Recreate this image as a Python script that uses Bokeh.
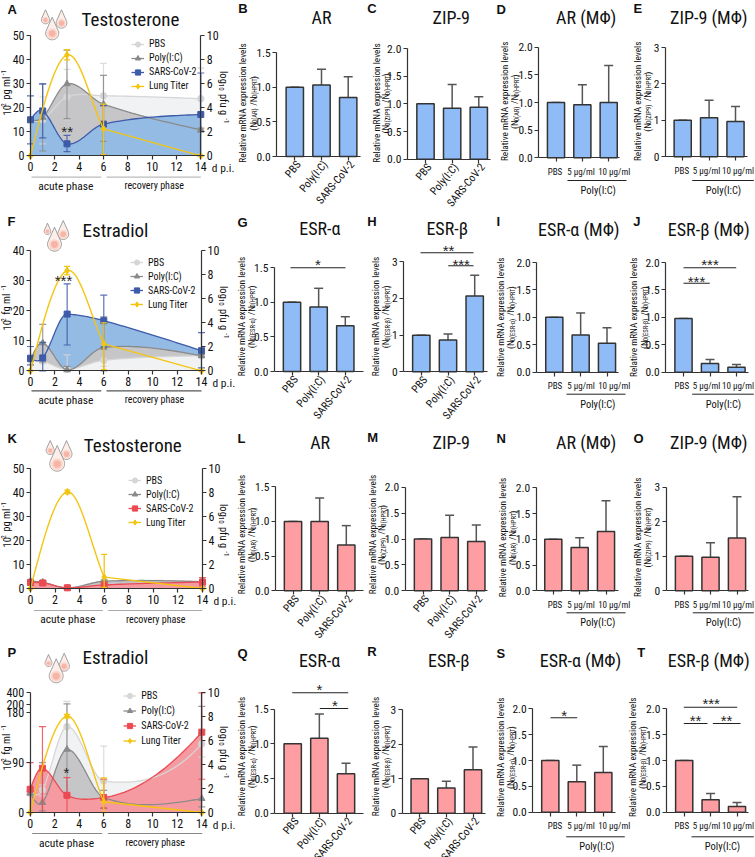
import math
import numpy as np
from bokeh.plotting import figure
from bokeh.layouts import column, row
from bokeh.embed import file_html
from bokeh.resources import INLINE
from bokeh.models import (Range1d, LinearAxis, FixedTicker, Label, Legend, LegendItem)

# ---------- data ----------
DAYS = [0, 1, 3, 6, 14]
LUNG_DAYS = [0, 3, 6, 14]

A_PBS = [15, 15, 24.5, 25, 23.8]; A_PBS_UP = [15.5, 24.5, 36, 38.5, 36.5]; A_PBS_LO = [14.5, 5, 15, 6, 11]
A_POLY = [15, 16, 30, 21.5, 10.8]; A_POLY_UP = [15.5, 30, 44, 33.5, 11.5]; A_POLY_LO = [14.5, 2, 15.5, 6, 10]
A_SARS = [15, 18.7, 5, 13.2, 17.2]; A_SARS_UP = [25, 30, 8.5, 21, 34.5]; A_SARS_LO = [5, 7.5, 1.7, 0.5, 0]
A_LUNG = [0, 8.4, 2.25, 0]; A_LUNG_UP = [0, 8.85, 4.3, 0]; A_LUNG_LO = [0, 8, 0.1, 0]

F_PBS = [3.7, 3.2, 0.5, 3.5, 5]; F_PBS_UP = [4, 4, 5.3, 8, 5.5]; F_PBS_LO = [3.4, 2.5, 0, 1.5, 4.5]
F_POLY = [3.7, 9.3, 0.3, 7.8, 5]; F_POLY_UP = [4, 15.5, 1.5, 18, 5.5]; F_POLY_LO = [3.4, 3, 0, 0, 4.5]
F_SARS = [4.2, 4.3, 18.9, 16.7, 6.7]; F_SARS_UP = [8.1, 9.5, 29, 25.2, 12.7]; F_SARS_LO = [2, 0, 8.6, 8, 1]
F_LUNG = [0, 8.35, 2.25, 0]; F_LUNG_UP = [0, 8.7, 4, 0]; F_LUNG_LO = [0, 8, 0.1, 0]

K_PBS = [3, 2.5, 0.3, 3, 3]; K_PBS_UP = [3.5, 3, 0.5, 3.6, 3.6]; K_PBS_LO = [2.5, 2, 0.1, 2.4, 2.4]
K_POLY = [3, 2.6, 0.2, 3, 2.8]; K_POLY_UP = [3.5, 3.2, 0.4, 3.5, 3.3]; K_POLY_LO = [2.5, 2, 0, 2.5, 2.3]
K_SARS = [2.5, 2.3, 0.3, 1.5, 2.7]; K_SARS_UP = [3.5, 3.2, 0.6, 2.5, 4.5]; K_SARS_LO = [1.5, 1.4, 0, 0.5, 1]
K_LUNG = [0, 8.05, 0.95, 0]; K_LUNG_UP = [0, 8.2, 2.85, 0]; K_LUNG_LO = [0, 7.9, 0.1, 0]

P_PBS = [35, 41, 155, 57, 124]; P_PBS_UP = [38, 50, 250, 120, 150]; P_PBS_LO = [32, 30, 60, 20, 100]
P_POLY = [35, 18, 114, 27, 25]; P_POLY_UP = [38, 90, 205, 40, 195]; P_POLY_LO = [32, 3, 30, 8, 10]
P_SARS = [42, 80, 31, 27, 145]; P_SARS_UP = [90, 155, 63, 60, 400]; P_SARS_LO = [0, 0, 0, 8, 60]
P_LUNG = [0, 8.05, 0.9, 0]; P_LUNG_UP = [0, 8.2, 2.9, 0]; P_LUNG_LO = [0, 7.9, 0, 0]

VIVO = ["PBS", "Poly(I:C)", "SARS-CoV-2"]
VITRO = ["PBS", "5 µg/ml", "10 µg/ml"]

B_MEAN = [1, 1.03, 0.85]; B_UP = [1, 1.26, 1.15]
C_MEAN = [1, 0.92, 0.94]; C_UP = [1, 1.35, 1.13]
D_MEAN = [1, 0.96, 1.0]; D_UP = [1, 1.32, 1.67]
E_MEAN = [1, 1.07, 0.97]; E_UP = [1, 1.55, 1.38]
G_MEAN = [1, 0.93, 0.66]; G_UP = [1, 1.2, 0.79]
H_MEAN = [1, 0.87, 2.07]; H_UP = [1, 1.03, 2.63]
I_MEAN = [1, 0.68, 0.53]; I_UP = [1, 1.08, 0.81]
J_MEAN = [0.98, 0.16, 0.09]; J_UP = [0.98, 0.23, 0.14]
L_MEAN = [1, 1.0, 0.66]; L_UP = [1, 1.34, 0.94]
M_MEAN = [1, 1.03, 0.95]; M_UP = [1, 1.46, 1.27]
N_MEAN = [1, 0.84, 1.15]; N_UP = [1, 1.03, 1.75]
O_MEAN = [1, 0.97, 1.53]; O_UP = [1, 1.39, 2.72]
Q_MEAN = [1, 1.08, 0.57]; Q_UP = [1, 1.43, 0.72]
R_MEAN = [1, 0.73, 1.26]; R_UP = [1, 0.93, 1.92]
S_MEAN = [1, 0.59, 0.77]; S_UP = [1, 0.91, 1.27]
T_MEAN = [1, 0.24, 0.11]; T_UP = [1, 0.36, 0.19]

# ---------- layout ----------
COLS = [0, 236, 366, 495, 626, 755]
ROWS = [0, 212, 430, 646, 857]
OVERLAP = 6
NARROW = "'Roboto Condensed','Noto Sans Condensed','Open Sans Condensed','DejaVu Sans Condensed',Lato"
BOLD = "Liberation Sans"
AX = "#333333"
BLUE_BAR, RED_BAR = "#8fbcf7", "#ff9ea2"
BLUE_F, RED_F, GRAY_F, LIGHT_F = "#93bbe4", "#f59aa0", "#c6c6c9", "#f1f2f4"
BLUE_L, RED_L = "#3e5ba9", "#ec4a52"
GRAY_L, PBS_L, LUNG_L = "#8a8a8a", "#d6d6d6", "#f3c512"
VITRO_CENTERS = {3: [554.5, 580.5, 613.7], 4: [681.3, 706, 737.5]}
TITLE_SIZE = 18


class Panel:
    def __init__(self, c, r, a0, apx, unit, y0, ytop_px, ytop):
        self.left, self.top = COLS[c], ROWS[r]
        self.right, self.bottom = COLS[c + 1], ROWS[r + 1]
        self.a0, self.apx, self.y0, self.ys = a0, apx, y0, ytop / (y0 - ytop_px)
        self.c = c
        extra = OVERLAP if c == 3 else 0
        self.X = lambda px: a0 + (px - apx) / unit
        self.Y = lambda py: (y0 - py) * self.ys
        W = self.right - self.left + extra
        H = self.bottom - self.top
        self.p = figure(width=W, height=H, output_backend="svg", toolbar_location=None,
                        x_range=Range1d(self.X(self.left), self.X(self.left + W)),
                        y_range=Range1d(self.Y(self.bottom), self.Y(self.top)),
                        x_axis_type=None, y_axis_type=None, min_border=0,
                        min_border_left=0, min_border_right=0, min_border_top=0, min_border_bottom=0,
                        background_fill_color=None, border_fill_color=None, outline_line_color=None,
                        margin=(0, -extra, 0, 0))

    def text(self, x, y, s, size=10, font=NARROW, align="center", base="middle", angle=0, style="normal", color="#111111"):
        self.p.add_layout(Label(x=self.X(x), y=self.Y(y), text=s, text_font=font, text_font_size=f"{size}px",
                                text_align=align, text_baseline=base, angle=angle, angle_units="deg",
                                text_font_style=style, text_color=color))

    def seg(self, x0, x1, y, color="#222222", width=1.2):
        self.p.segment([self.X(x0)], [self.Y(y)], [self.X(x1)], [self.Y(y)], line_color=color, line_width=width)

    def stars(self, cx, y, s):
        self.text(cx, y + 3, s, size=15, font=BOLD, color="#222222")

    def rich_v(self, x, cy, pieces, up=True):
        """rotated text built of (text, size, shift) pieces"""
        widths = [len(t) * sz * 0.41 for t, sz, _ in pieces]
        total = sum(widths)
        pos = cy + total / 2 if up else cy - total / 2
        for (t, sz, sh), w in zip(pieces, widths):
            lead = (len(t) - len(t.lstrip())) * sz * 0.41
            start = pos - lead if up else pos + lead
            self.text(x + (sh if up else -sh), start, t.strip(), size=sz, align="left", angle=90 if up else -90)
            pos += -w if up else w


def style_axis(ax, size=12):
    ax.axis_line_color = AX
    ax.axis_line_width = 1.2
    ax.major_tick_line_color = AX
    ax.major_tick_line_width = 1.2
    ax.major_tick_in = 0
    ax.major_tick_out = 4
    ax.minor_tick_line_color = None
    ax.major_label_text_font = NARROW
    ax.major_label_text_font_size = f"{size}px"
    ax.major_label_text_color = "#111111"
    ax.major_label_standoff = 2


def smooth(xs, ys, over=None):
    xs, ys = np.array(xs, float), np.array(ys, float)
    d = np.diff(ys) / np.diff(xs)
    m = np.zeros(len(xs))
    m[1:-1] = (ys[2:] - ys[:-2]) / (xs[2:] - xs[:-2])
    m[0] = 1.5 * d[0] - 0.5 * m[1]
    m[-1] = 1.5 * d[-1] - 0.5 * m[-2]
    for k, v in (over or {}).items():
        m[k] = v
    ox, oy = [], []
    for i in range(len(xs) - 1):
        h = xs[i + 1] - xs[i]
        t = np.linspace(0, 1, 24, endpoint=False)
        ox += list(xs[i] + t * h)
        oy += list((2*t**3 - 3*t**2 + 1) * ys[i] + (t**3 - 2*t**2 + t) * h * m[i]
                   + (-2*t**3 + 3*t**2) * ys[i + 1] + (t**3 - t**2) * h * m[i + 1])
    return ox + [xs[-1]], oy + [ys[-1]]


def lung_curve(vals):
    d = (vals[2] - vals[1]) / (LUNG_DAYS[2] - LUNG_DAYS[1])
    x, y = smooth(LUNG_DAYS[:3], vals[:3], {2: d})
    return x + [LUNG_DAYS[3]], y + [vals[3]]


def drop(pn, cx, y_top, y_bot):
    r = (y_bot - y_top) * 0.29
    cy = y_bot - r
    th = np.linspace(-0.15 * math.pi, 1.15 * math.pi, 30)
    xs = [cx + r * math.cos(t) for t in th]
    ys = [cy + r * math.sin(t) for t in th]
    xo = [cx] + xs
    yo = [y_top] + ys
    pn.p.patch([pn.X(v) for v in xo], [pn.Y(v) for v in yo], fill_color="#fdeee9", line_color="#8a8a8a", line_width=0.8)
    for f, col in ((0.78, "#fbd6cc"), (0.5, "#f6b5a6")):
        pn.p.scatter([pn.X(cx)], [pn.Y(cy + r * 0.05)], size=2 * r * f, marker="circle", fill_color=col, line_color=None)


def line_panel(c, r, x0, x14, y0, ytop_px, ytop, series, fill_order, titles, drops, legend, fmt=None, over=None, brk=None):
    pn = Panel(c, r, 0, x0, (x14 - x0) / 14, y0, ytop_px, ytop)
    p = pn.p
    over = over or {}
    tf = brk or (lambda v: v)
    log_scale = 10 / (y0 - ytop_px) if fmt is None else 10 / (y0 - fmt["ten_px"])
    p.extra_y_ranges = {"log": Range1d((y0 - pn.bottom) * log_scale, (y0 - pn.top) * log_scale)}

    # fills
    names = {"PBS": LIGHT_F, "POLY": GRAY_F, "SARS": series["sarsfill"]}
    for k in fill_order:
        x, y = smooth(DAYS, [tf(v) for v in series[k][0]], over.get(k))
        p.patch([x[0]] + x + [x[-1]], [0] + y + [0], fill_color=names[k], line_color=None)
    rend = {}
    cols = {"PBS": (PBS_L, "circle", 6.5), "POLY": (GRAY_L, "triangle", 6.5), "SARS": (series["sarsline"], "square", 6)}
    for k in ["PBS", "POLY", "SARS"]:
        m, u, l = series[k]
        col, mk, sz = cols[k]
        x, y = smooth(DAYS, [tf(v) for v in m], over.get(k))
        ln = p.line(x, y, line_color=col, line_width=1.3)
        ua, la = [tf(v) for v in u], [tf(v) for v in l]
        p.segment(DAYS, ua, DAYS, la, line_color=col, line_width=1.2, line_alpha=0.85)
        p.scatter(DAYS, ua, marker="dash", size=7, line_color=col, line_width=1.2, line_alpha=0.85)
        p.scatter(DAYS, la, marker="dash", size=7, line_color=col, line_width=1.2, line_alpha=0.85)
        sc = p.scatter(DAYS, [tf(v) for v in m], marker=mk, size=sz, fill_color=col, line_color=col)
        rend[k] = [ln, sc]
    m, u, l = series["LUNG"]
    x, y = lung_curve(m)
    ln = p.line(x, y, line_color=LUNG_L, line_width=1.4, y_range_name="log")
    p.segment(LUNG_DAYS, u, LUNG_DAYS, l, line_color=LUNG_L, line_width=1.3, y_range_name="log")
    p.scatter(LUNG_DAYS, u, marker="dash", size=6, line_color=LUNG_L, line_width=1.3, y_range_name="log")
    p.scatter(LUNG_DAYS, l, marker="dash", size=6, line_color=LUNG_L, line_width=1.3, y_range_name="log")
    sc = p.scatter(LUNG_DAYS, m, marker="diamond", size=7, fill_color=LUNG_L, line_color=LUNG_L, y_range_name="log")
    rend["LUNG"] = [ln, sc]

    # axes
    xa = LinearAxis(ticker=FixedTicker(ticks=list(range(0, 15, 2))), bounds=(0, 14), fixed_location=0)
    style_axis(xa)
    p.add_layout(xa, "below")
    ticks = fmt["ticks"] if fmt else list(range(0, int(ytop) + 1, 10))
    ya = LinearAxis(ticker=FixedTicker(ticks=ticks), bounds=(0, ticks[-1]), fixed_location=0)
    style_axis(ya)
    if fmt:
        ya.major_label_overrides = fmt["labels"]
    p.add_layout(ya, "left")
    ra = LinearAxis(y_range_name="log", ticker=FixedTicker(ticks=[0, 2, 4, 6, 8, 10]), bounds=(0, 10), fixed_location=14)
    style_axis(ra)
    p.add_layout(ra, "right")

    # legend
    lx, ly0, lstep = legend
    items = [LegendItem(label=n, renderers=rend[k]) for n, k in
             (("PBS", "PBS"), ("Poly(I:C)", "POLY"), ("SARS-CoV-2", "SARS"), ("Lung Titer", "LUNG"))]
    bottom_y = pn.bottom - (ly0 + 3 * lstep + lstep / 2)
    p.add_layout(Legend(items=items, location=(lx, bottom_y), background_fill_color=None, border_line_color=None,
                        padding=0, margin=0, spacing=0, glyph_width=13, glyph_height=int(lstep), label_height=int(lstep),
                        label_standoff=5, label_text_font=NARROW, label_text_font_size="10px", label_text_color="#111111"))

    # texts
    pn.text(*titles["title"], size=TITLE_SIZE + 1)
    pn.text(titles["letter"][0], titles["letter"][1], titles["letter"][2], size=13, font=BOLD, style="bold", align="left")
    pn.text(x14 + 11, y0 + 12, "d p.i.", size=11.5, align="left")
    px0, px1, px2, px3, ly, lc, tc1, tc2, ty, lcol = titles["phase"]
    pn.seg(px0, px1, ly, color=lcol, width=1.2)
    pn.seg(px2, px3, ly, color=lcol, width=1.2)
    pn.text(tc1, ty, "acute phase", size=11.5)
    pn.text(tc2, ty, "recovery phase", size=10)
    pn.rich_v(titles["ylab"][0], titles["ylab"][1], titles["ylab"][2])
    pn.rich_v(titles["rlab"][0], titles["rlab"][1],
              [("log", 10.5, 0), ("10", 7, 2.5), (" pfu g", 10.5, 0), (" -1", 7, -3)], up=False)
    for cx, yt, yb in drops:
        drop(pn, cx, yt, yb)
    if "star" in titles:
        pn.stars(*titles["star"])
    return p


def bar_panel(c, r, centers, end_x, axis_x, y0, ytop_px, ytop, ticks, mean, up, color, cats, title, letter, ylab, sub, sig=(), bracket=None):
    sp = (centers[2] - centers[0]) / 2
    pn = Panel(c, r, 0, centers[0], sp, y0, ytop_px, ytop)
    p = pn.p
    idx = [0, 1, 2]
    p.segment(idx, up, idx, mean, line_color="#555555", line_width=1.5)
    p.scatter(idx, up, marker="dash", size=9, line_color="#555555", line_width=1.5)
    p.vbar(x=idx, top=mean, bottom=0, width=0.65, fill_color=color, line_color="#333333", line_width=1.5)
    xa = LinearAxis(ticker=FixedTicker(ticks=idx), bounds=(pn.X(axis_x), pn.X(end_x)), fixed_location=0,
                    major_label_overrides={i: "" for i in idx})
    style_axis(xa, 10.5)
    p.add_layout(xa, "below")
    if cats is VIVO:
        for cx, s in zip(centers, cats):
            pn.text(cx + 4, y0 + 6, s, size=11, align="right", angle=50)
    else:
        for cx, s in zip(VITRO_CENTERS[c], cats):
            pn.text(cx, y0 + 14, s, size=9)
    ya = LinearAxis(ticker=FixedTicker(ticks=ticks), bounds=(0, ytop), fixed_location=pn.X(axis_x))
    style_axis(ya, 11.5)
    ya.major_label_overrides = {t: (f"{t:.1f}" if ytop < 3 else str(int(t))) for t in ticks}
    p.add_layout(ya, "left")
    pn.text(title[0], title[1], title[2], size=TITLE_SIZE)
    pn.text(letter[0], letter[1], letter[2], size=13, font=BOLD, style="bold", align="left")
    pn.text(ylab[0], ylab[2], "Relative mRNA expression levels", size=9.3, angle=90)
    pn.rich_v(ylab[1] - 1.5, ylab[2], [("(N", 9.3, 0), (sub, 6.6, 2), (" /N", 9.3, 0), ("0(HPRT)", 6.6, 2), (")", 9.3, 0)])
    for x0, x1, ly, s, cx, sy in sig:
        pn.seg(x0, x1, ly, width=1.1)
        pn.stars(cx, sy, s)
    if bracket:
        bx0, bx1, by, tx, ty = bracket
        pn.seg(bx0, bx1, by, color="#222222", width=1.0)
        pn.text(tx, ty, "Poly(I:C)", size=10.5)
    return p


BLUE_KW = dict(sarsfill=BLUE_F, sarsline=BLUE_L)
RED_KW = dict(sarsfill=RED_F, sarsline=RED_L)
T_V = [0, 0.5, 1.0, 1.5]
T_W = [0, 0.5, 1.0, 1.5, 2.0]
T_3 = [0, 1, 2, 3]


def ylab_l(unit):
    return [("10", 10.5, 0), ("2", 7, -3), (" " + unit + " ml", 10.5, 0), (" -1", 7, -3)]


# ---- row 1
pA = line_panel(0, 0, 30, 200.3, 155.3, 35.3, 50,
    dict(PBS=(A_PBS, A_PBS_UP, A_PBS_LO), POLY=(A_POLY, A_POLY_UP, A_POLY_LO), SARS=(A_SARS, A_SARS_UP, A_SARS_LO),
         LUNG=(A_LUNG, A_LUNG_UP, A_LUNG_LO), **BLUE_KW),
    ["PBS", "POLY", "SARS"],
    dict(title=(130, 19, "Testosterone"), letter=(7, 8.5, "A"), phase=(31, 100.7, 106, 200.3, 176.7, 0, 65.3, 153.7, 185, "#bbbbbb"),
         ylab=(6, 92, ylab_l("pg")), rlab=(223, 97), star=(66.7, 128, "**")),
    [(45, 9.3, 23.3), (61, 9.3, 27.7), (51.7, 16.7, 39.3)], (131, 42.3, 14.4))
pB = bar_panel(1, 0, [294.3, 321, 347.7], 360, 276.3, 156, 52, 1.5, T_V, B_MEAN, B_UP, BLUE_BAR, VIVO, (321, 17, "AR"), (237.7, 7.5, "B"), (242.3, 254.3, 102.5), "0(AR)")
pC = bar_panel(2, 0, [425, 451.7, 478.3], 490, 407, 158.7, 48, 2.0, T_W, C_MEAN, C_UP, BLUE_BAR, VIVO, (450.7, 17, "ZIP-9"), (366.7, 7.5, "C"), (375.7, 386.7, 102.5), "0(ZIP9)")
pD = bar_panel(3, 0, [555.5, 582, 608.2], 619, 538.3, 157.3, 46.7, 2.0, T_W, D_MEAN, D_UP, BLUE_BAR, VITRO, (585.7, 17, "AR (MΦ)"), (496, 8.5, "D"), (504.3, 515.7, 100.8), "0(AR)", bracket=(567, 626, 180, 597.7, 190))
pE = bar_panel(4, 0, [682.2, 708.8, 735], 746.7, 665, 156.3, 47, 3, T_3, E_MEAN, E_UP, BLUE_BAR, VITRO, (708.3, 17, "ZIP-9 (MΦ)"), (633, 8, "E"), (636.7, 648.3, 100.8), "0(ZIP9)", bracket=(691.7, 753.3, 180, 723, 190))

# ---- row 2
pF = line_panel(0, 1, 30, 201, 370.3, 250.3, 40,
    dict(PBS=(F_PBS, F_PBS_UP, F_PBS_LO), POLY=(F_POLY, F_POLY_UP, F_POLY_LO), SARS=(F_SARS, F_SARS_UP, F_SARS_LO),
         LUNG=(F_LUNG, F_LUNG_UP, F_LUNG_LO), **BLUE_KW),
    ["SARS", "POLY", "PBS"],
    dict(title=(115, 230, "Estradiol"), letter=(7, 221, "F"), phase=(31, 100.7, 106, 201, 390.3, 0, 65.3, 154, 399.3, "#555555"),
         ylab=(6, 307, ylab_l("fg")), rlab=(223, 312), star=(63, 277, "***")),
    [(47, 222.7, 234), (62.7, 220, 239), (54, 226.7, 250.7)], (130, 260.7, 14.5), over=dict(SARS={2: -0.2}))
pG = bar_panel(1, 1, [291.5, 318.2, 344.8], 362.7, 274, 371, 267, 1.5, T_V, G_MEAN, G_UP, BLUE_BAR, VIVO, (319.3, 228, "ESR-α"), (237, 221.5, "G"), (241, 252.3, 316), "0(ESR-α)",
               sig=[(290, 345, 267.3, "*", 317.5, 261)])
pH = bar_panel(2, 1, [420.8, 447.7, 474.2], 486.7, 403.3, 371.3, 261.3, 3, T_3, H_MEAN, H_UP, BLUE_BAR, VIVO, (446.7, 228, "ESR-β"), (366.7, 220.7, "H"), (375.3, 386.7, 316), "0(ESR-β)",
               sig=[(420, 473, 252.3, "**", 448, 247), (447.7, 473, 265.3, "***", 460.7, 261)])
pI = bar_panel(3, 1, [553.8, 580.2, 606.5], 617.7, 536.3, 371.7, 262, 2.0, T_W, I_MEAN, I_UP, BLUE_BAR, VITRO, (578.3, 229, "ESR-α (MΦ)"), (496, 221, "I"), (500, 511.7, 316.7), "0(ESR-α)", bracket=(566, 625, 393.7, 597.3, 404))
pJ = bar_panel(4, 1, [683, 709.5, 736], 747.7, 665.3, 371.7, 262, 2.0, T_W, J_MEAN, J_UP, BLUE_BAR, VITRO, (708.3, 229, "ESR-β (MΦ)"), (632.7, 221, "J"), (633.3, 645, 316.7), "0(ESR-β)",
               sig=[(683, 735.7, 267.3, "***", 709.5, 261), (683, 709.3, 282.7, "***", 696, 278)], bracket=(691.7, 753.3, 393.7, 723, 404))

# ---- row 3
pK = line_panel(0, 2, 30, 202, 588, 468, 50,
    dict(PBS=(K_PBS, K_PBS_UP, K_PBS_LO), POLY=(K_POLY, K_POLY_UP, K_POLY_LO), SARS=(K_SARS, K_SARS_UP, K_SARS_LO),
         LUNG=(K_LUNG, K_LUNG_UP, K_LUNG_LO), **RED_KW),
    ["PBS", "POLY", "SARS"],
    dict(title=(132.3, 445, "Testosterone"), letter=(7, 438, "K"), phase=(33.3, 102.3, 107.7, 201.7, 610, 0, 67.3, 155.3, 618.7, "#aaaaaa"),
         ylab=(6, 524, ylab_l("pg")), rlab=(223, 530)),
    [(49.7, 440, 454), (66, 440, 459), (56.7, 445, 470.7)], (128, 477.7, 14.7))
pL = bar_panel(1, 2, [292.5, 319.2, 345.8], 363.3, 275, 590.3, 486.3, 1.5, T_V, L_MEAN, L_UP, RED_BAR, VIVO, (319.7, 441.7, "AR"), (237, 438, "L"), (241, 252.7, 534), "0(AR)")
pM = bar_panel(2, 2, [422.5, 449.2, 475.8], 487.3, 404.7, 590.3, 486.7, 2.0, T_W, M_MEAN, M_UP, RED_BAR, VIVO, (450.7, 441.7, "ZIP-9"), (366.7, 437, "M"), (371.7, 382.7, 534), "0(ZIP9)")
pN = bar_panel(3, 2, [552.8, 579.2, 605.5], 617.7, 535.7, 590.3, 487.3, 2.0, T_W, N_MEAN, N_UP, RED_BAR, VITRO, (585.7, 441.7, "AR (MΦ)"), (496, 438, "N"), (501.7, 513.3, 537), "0(AR)", bracket=(566, 625, 612.3, 597.3, 622.3))
pO = bar_panel(4, 2, [683.5, 709.8, 736.5], 747.7, 665.7, 590.3, 486.7, 3, T_3, O_MEAN, O_UP, RED_BAR, VITRO, (708.3, 441.7, "ZIP-9 (MΦ)"), (633, 438, "O"), (636.7, 648.3, 536.7), "0(ZIP9)", bracket=(692.3, 753.3, 612.3, 723, 622.3))

# ---- row 4 (broken left axis)
P_UNIT = 180 / (812 - 712.3)


def brk(v):
    if v <= 180:
        return v
    if v <= 200:
        return 180 + (v - 180) / 20 * (8.6 * P_UNIT)
    return 180 + 8.6 * P_UNIT + (v - 200) / 200 * (11.4 * P_UNIT)


P_TICKS = [0, 90, 180, brk(200), brk(400)]
pP = line_panel(0, 3, 29.7, 201.3, 812, 712.3, 180,
    dict(PBS=(P_PBS, P_PBS_UP, P_PBS_LO), POLY=(P_POLY, P_POLY_UP, P_POLY_LO), SARS=(P_SARS, P_SARS_UP, P_SARS_LO),
         LUNG=(P_LUNG, P_LUNG_UP, P_LUNG_LO), **RED_KW),
    ["PBS", "POLY", "SARS"],
    dict(title=(115, 657.3, "Estradiol"), letter=(7, 652, "P"), phase=(31.7, 101.7, 107.3, 201.7, 833, 0, 66, 154.7, 842, "#888888"),
         ylab=(6, 747, ylab_l("fg")), rlab=(223, 752), star=(66, 768.7, "*")),
    [(48, 654, 666), (63.7, 652.7, 670.7), (55.7, 658.3, 682.3)], (123.3, 695, 15),
    fmt=dict(ticks=P_TICKS, labels={P_TICKS[0]: "0", P_TICKS[1]: "90", P_TICKS[2]: "180", P_TICKS[3]: "200", P_TICKS[4]: "400"}, ten_px=692.3),
    over=dict(SARS={3: 3, 4: 25}, PBS={4: 25}), brk=brk)
pQ = bar_panel(1, 3, [292.2, 318.8, 345.5], 362.7, 274.3, 812.7, 708.7, 1.5, T_V, Q_MEAN, Q_UP, RED_BAR, VIVO, (319, 660, "ESR-α"), (237, 653, "Q"), (241, 252.7, 756), "0(ESR-α)",
               sig=[(291.7, 347.7, 692.3, "*", 319, 686), (319.3, 347.7, 708, "*", 334.5, 702)])
pR = bar_panel(2, 3, [419.2, 445.8, 472.5], 485, 401.7, 812.7, 709.3, 3, T_3, R_MEAN, R_UP, RED_BAR, VIVO, (448.3, 660, "ESR-β"), (366.7, 651, "R"), (375, 386.7, 756), "0(ESR-β)")
pS = bar_panel(3, 3, [549.8, 576.5, 602.8], 615, 532.3, 811.7, 708.3, 2.0, T_W, S_MEAN, S_UP, RED_BAR, VITRO, (580, 660, "ESR-α (MΦ)"), (496, 653, "S"), (500, 511.7, 756.7), "0(ESR-α)",
               sig=[(550, 576.7, 717.3, "*", 563.7, 711.7)], bracket=(565.7, 624.3, 836.3, 596.3, 845.7))
pT = bar_panel(4, 3, [683.7, 709.8, 736.5], 747.7, 666, 811.7, 708.3, 2.0, T_W, T_MEAN, T_UP, RED_BAR, VITRO, (708.3, 660, "ESR-β (MΦ)"), (636.7, 651.7, "T"), (631.7, 643.3, 756.7), "0(ESR-β)",
               sig=[(683.3, 736.7, 706.7, "***", 710.7, 700.3), (683.3, 707, 723, "**", 695, 717.3), (712.3, 740, 723, "**", 726, 717.3)], bracket=(691, 753.3, 836.3, 722, 845.7))

root = column(row(pA, pB, pC, pD, pE, spacing=0), row(pF, pG, pH, pI, pJ, spacing=0),
              row(pK, pL, pM, pN, pO, spacing=0), row(pP, pQ, pR, pS, pT, spacing=0),
              spacing=0)
open("out.html", "w").write(file_html(root, INLINE))
